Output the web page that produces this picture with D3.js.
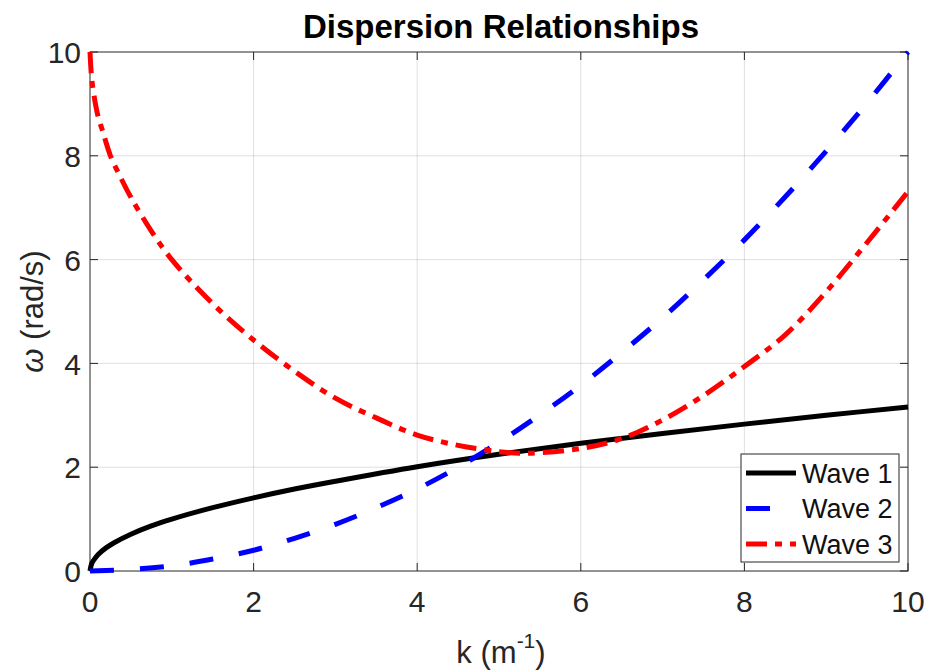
<!DOCTYPE html>
<html>
<head>
<meta charset="utf-8">
<script src="https://cdn.jsdelivr.net/npm/d3@7"></script>
<style>
  html, body { margin: 0; padding: 0; background: #fff; }
  svg { display: block; font-family: "Liberation Sans", Arial, Helvetica, sans-serif; }
</style>
</head>
<body>
<div id="chart"></div>
<script>
// Values
const k1 = [0, 0.02, 0.05, 0.1, 0.2, 0.3, 0.5, 0.75, 1, 1.5, 2, 2.5, 3, 4, 5, 6, 7, 8, 9, 10];
const wave1 = [0, 0.14, 0.22, 0.32, 0.45, 0.55, 0.71, 0.87, 1.0, 1.22, 1.41, 1.58, 1.73, 2.01, 2.25, 2.46, 2.65, 2.83, 3.0, 3.16];

const k2 = [0, 0.5, 1, 1.5, 2, 2.5, 3, 3.5, 4, 4.5, 5, 5.5, 6, 6.5, 7, 7.5, 8, 8.5, 9, 9.5, 10];
const wave2 = [0, 0.03, 0.1, 0.23, 0.4, 0.63, 0.9, 1.22, 1.58, 2.0, 2.48, 3.01, 3.58, 4.21, 4.88, 5.61, 6.38, 7.21, 8.09, 9.02, 10];

const k3 = [0, 0.02, 0.05, 0.1, 0.15, 0.25, 0.36, 0.5, 0.75, 1, 1.5, 2, 2.5, 3, 3.5, 4, 4.5, 5, 5.25, 5.5, 6, 6.5, 7, 7.5, 8, 8.5, 9, 9.5, 10];
const wave3 = [10, 9.5, 9.15, 8.75, 8.5, 8.0, 7.63, 7.2, 6.55, 6.0, 5.15, 4.45, 3.85, 3.33, 2.95, 2.62, 2.42, 2.3, 2.27, 2.28, 2.36, 2.55, 2.91, 3.38, 3.94, 4.55, 5.38, 6.33, 7.31];

const seriesNames = ["Wave 1", "Wave 2", "Wave 3"];
const xTicks = [0, 2, 4, 6, 8, 10];
const yTicks = [0, 2, 4, 6, 8, 10];

const width = 928;
const height = 672;
const margin = {top: 52, right: 20, bottom: 101, left: 90};
const axisColor = "#262626";

const series = [
  {name: seriesNames[0], k: k1, w: wave1, color: "#000000", dash: null},
  {name: seriesNames[1], k: k2, w: wave2, color: "#0000ff", dash: "24,26"},
  {name: seriesNames[2], k: k3, w: wave3, color: "#ff0000", dash: "21,8,7,8"}
];

const x = d3.scaleLinear().domain([0, 10]).range([margin.left, width - margin.right]);
const y = d3.scaleLinear().domain([0, 10]).range([height - margin.bottom, margin.top]);

const svg = d3.select("#chart").append("svg")
    .attr("width", width)
    .attr("height", height);

const x0 = x.range()[0], x1 = x.range()[1];
const y0 = y.range()[0], y1 = y.range()[1];

// grid
svg.append("g")
    .attr("stroke", axisColor)
    .attr("stroke-opacity", 0.15)
  .selectAll("line")
  .data(xTicks.slice(1, -1))
  .join("line")
    .attr("x1", d => x(d)).attr("x2", d => x(d))
    .attr("y1", y1).attr("y2", y0);

svg.append("g")
    .attr("stroke", axisColor)
    .attr("stroke-opacity", 0.15)
  .selectAll("line")
  .data(yTicks.slice(1, -1))
  .join("line")
    .attr("y1", d => y(d)).attr("y2", d => y(d))
    .attr("x1", x0).attr("x2", x1);

// box and inward ticks on all four sides
const frame = svg.append("g").attr("stroke", axisColor).attr("stroke-width", 1).attr("fill", "none");
frame.append("rect")
    .attr("x", x0).attr("y", y1)
    .attr("width", x1 - x0).attr("height", y0 - y1);

const tickLen = 8;
xTicks.forEach(t => {
  frame.append("line").attr("x1", x(t)).attr("x2", x(t)).attr("y1", y0).attr("y2", y0 - tickLen);
  frame.append("line").attr("x1", x(t)).attr("x2", x(t)).attr("y1", y1).attr("y2", y1 + tickLen);
});
yTicks.forEach(t => {
  frame.append("line").attr("y1", y(t)).attr("y2", y(t)).attr("x1", x0).attr("x2", x0 + tickLen);
  frame.append("line").attr("y1", y(t)).attr("y2", y(t)).attr("x1", x1).attr("x2", x1 - tickLen);
});

// tick labels
svg.append("g")
    .attr("fill", axisColor)
    .attr("font-size", 30)
    .attr("text-anchor", "middle")
  .selectAll("text")
  .data(xTicks)
  .join("text")
    .attr("x", d => x(d))
    .attr("y", y0 + 41)
    .text(d => d);

svg.append("g")
    .attr("fill", axisColor)
    .attr("font-size", 30)
    .attr("text-anchor", "end")
  .selectAll("text")
  .data(yTicks)
  .join("text")
    .attr("x", x0 - 9)
    .attr("y", d => y(d))
    .attr("dy", "0.37em")
    .text(d => d);

// axis labels
const xl = svg.append("text")
    .attr("x", (x0 + x1) / 2 + 2)
    .attr("y", 663)
    .attr("text-anchor", "middle")
    .attr("font-size", 31)
    .attr("fill", axisColor);
xl.append("tspan").text("k (m");
xl.append("tspan").attr("font-size", 21).attr("dy", -15).text("-1");
xl.append("tspan").attr("dy", 15).text(")");

const yl = svg.append("text")
    .attr("transform", `translate(43,${(y0 + y1) / 2}) rotate(-90)`)
    .attr("text-anchor", "middle")
    .attr("font-size", 31)
    .attr("fill", axisColor);
yl.append("tspan").attr("font-style", "italic").text("ω");
yl.append("tspan").text(" (rad/s)");

// title
svg.append("text")
    .attr("x", (x0 + x1) / 2 + 2)
    .attr("y", 38)
    .attr("text-anchor", "middle")
    .attr("font-size", 33)
    .attr("font-weight", "bold")
    .attr("fill", "#000")
    .text("Dispersion Relationships");

// curves
const line = d3.line()
    .x(d => x(d[0]))
    .y(d => y(d[1]))
    .curve(d3.curveCatmullRom.alpha(0.5));

svg.append("g")
    .attr("fill", "none")
  .selectAll("path")
  .data(series)
  .join("path")
    .attr("stroke", d => d.color)
    .attr("stroke-width", 5)
    .attr("stroke-dasharray", d => d.dash)
    .attr("d", d => line(d.k.map((kv, i) => [kv, d.w[i]])));

// legend
const lg = svg.append("g").attr("transform", "translate(741,454)");
lg.append("rect")
    .attr("width", 158).attr("height", 108)
    .attr("fill", "#fff")
    .attr("stroke", axisColor)
    .attr("stroke-width", 1);

const rows = lg.selectAll("g.row")
  .data(series)
  .join("g")
    .attr("class", "row")
    .attr("transform", (d, i) => `translate(0,${19 + i * 35.5})`);

rows.append("line")
    .attr("x1", 5).attr("x2", 55)
    .attr("stroke", d => d.color)
    .attr("stroke-width", 5)
    .attr("stroke-dasharray", d => d.dash);

rows.append("text")
    .attr("x", 61)
    .attr("dy", "0.36em")
    .attr("font-size", 27)
    .attr("fill", "#111")
    .text(d => d.name);
</script>
</body>
</html>
